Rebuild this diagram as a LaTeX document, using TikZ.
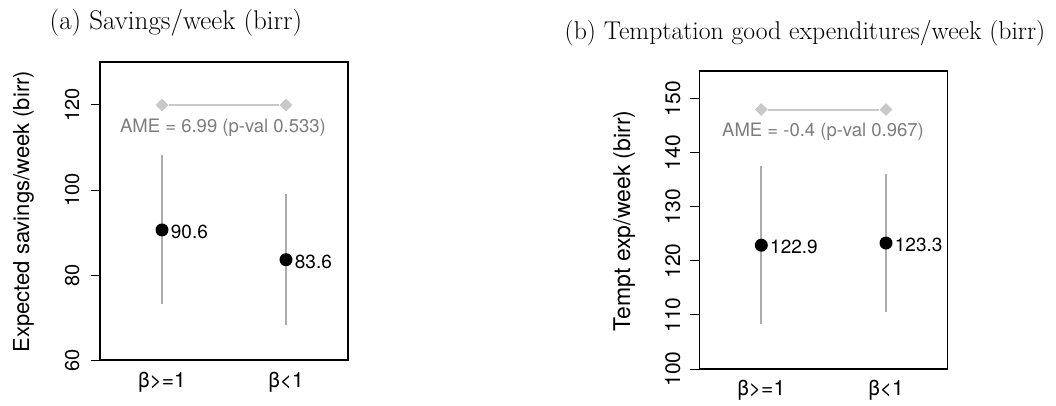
\documentclass[tikz,border=0pt]{standalone}
\usepackage{fontspec}
\newfontfamily\plotfont{TeX Gyre Heros}
\usetikzlibrary{shapes}

\begin{document}
\begin{tikzpicture}[x=1pt,y=1pt]

\useasboundingbox (0,0) rectangle (1056,405);

\definecolor{cigray}{RGB}{172,172,172}
\definecolor{amegray}{RGB}{200,200,200}
\definecolor{txtgray}{RGB}{125,125,125}

\def\fsize#1{\plotfont\fontsize{#1}{#1}\selectfont}

\tikzstyle{frame}=[draw,line width=1.4pt]
\tikzstyle{ticklabel}=[rotate=90,anchor=base,inner sep=0pt,font=\fsize{20}]
\tikzstyle{axislabel}=[rotate=90,anchor=base,inner sep=0pt,font=\fsize{22}]
\tikzstyle{grouplabel}=[inner sep=0pt,font=\fsize{21}]
\tikzstyle{estimate}=[circle,fill=black,minimum size=13pt,inner sep=0pt]
\tikzstyle{value}=[anchor=west,inner sep=2pt,font=\fsize{19}]
\tikzstyle{ci}=[draw=cigray,line width=1.8pt]
\tikzstyle{amemark}=[diamond,fill=amegray,minimum size=13pt,inner sep=0pt]
\tikzstyle{ameline}=[draw=amegray,line width=2pt]
\tikzstyle{ametext}=[text=txtgray,inner sep=0pt,font=\fsize{18.5}]
\tikzstyle{paneltitle}=[inner sep=0pt,font=\fontsize{27}{27}\selectfont]

%titles
\node[paneltitle] (titlea) at (176,382) {(a) Savings/week (birr)};
\node[paneltitle,font=\fontsize{25.7}{25.7}\selectfont] (titleb) at (805,372) {(b) Temptation good expenditures/week (birr)};

%savings
\begin{scope}[y=4.25pt,yshift=-210pt]
\draw[frame] (100,60) rectangle (348,130.1);
\foreach \v in {60,80,100,120} {
  \coordinate (ta\v) at (90.7,\v);
  \coordinate (fa\v) at (100,\v);
  \draw[line width=1pt] (ta\v) -- (fa\v);
  \node[ticklabel] (la\v) at (79,\v) {\v};
}
\node[axislabel] (ylaba) at (29,94.9) {Expected savings/week (birr)};

\node[amemark] (amea1) at (162,120) {};
\node[amemark] (amea2) at (286,120) {};
\draw[ameline] (amea1) -- (amea2);
\node[ametext] (ametxta) at (223,114.6) {AME = 6.99 (p-val 0.533)};

\coordinate (cia1hi) at (162,108.2);
\coordinate (cia1lo) at (162,73.2);
\coordinate (cia2hi) at (286,99.1);
\coordinate (cia2lo) at (286,68.2);
\draw[ci] (cia1lo) -- (cia1hi);
\draw[ci] (cia2lo) -- (cia2hi);

\node[estimate] (esta1) at (162,90.6) {};
\node[estimate] (esta2) at (286,83.6) {};
\node[value] (vala1) at ([yshift=-2pt]esta1.east) {90.6};
\node[value] (vala2) at ([yshift=-2pt]esta2.east) {83.6};

\node[grouplabel] (grpa1) at (162,54.8) {β>=1};
\node[grouplabel] (grpa2) at (286,54.8) {β<1};
\end{scope}

%temptation goods
\begin{scope}[y=5.406pt,yshift=-504.6pt]
\draw[frame] (699.3,100) rectangle (947.3,155.1);
\foreach \v in {100,110,...,150} {
  \coordinate (tb\v) at (690,\v);
  \coordinate (fb\v) at (699.3,\v);
  \draw[line width=1pt] (tb\v) -- (fb\v);
  \node[ticklabel,font=\fsize{21}] (lb\v) at (680,\v) {\v};
}
\node[axislabel,font=\fsize{23}] (ylabb) at (630,127.4) {Tempt exp/week (birr)};

\node[amemark] (ameb1) at (761.3,148) {};
\node[amemark] (ameb2) at (886,148) {};
\draw[ameline] (ameb1) -- (ameb2);
\node[ametext] (ametxtb) at (823,143.9) {AME = -0.4 (p-val 0.967)};

\coordinate (cib1hi) at (761.3,137.5);
\coordinate (cib1lo) at (761.3,108.3);
\coordinate (cib2hi) at (886,136.0);
\coordinate (cib2lo) at (886,110.5);
\draw[ci] (cib1lo) -- (cib1hi);
\draw[ci] (cib2lo) -- (cib2hi);

\node[estimate] (estb1) at (761.3,122.9) {};
\node[estimate] (estb2) at (886,123.3) {};
\node[value] (valb1) at ([yshift=-2pt]estb1.east) {122.9};
\node[value] (valb2) at ([yshift=-2pt]estb2.east) {123.3};

\node[grouplabel] (grpb1) at (761.3,96.1) {β>=1};
\node[grouplabel] (grpb2) at (886,96.1) {β<1};
\end{scope}

\end{tikzpicture}
\end{document}
